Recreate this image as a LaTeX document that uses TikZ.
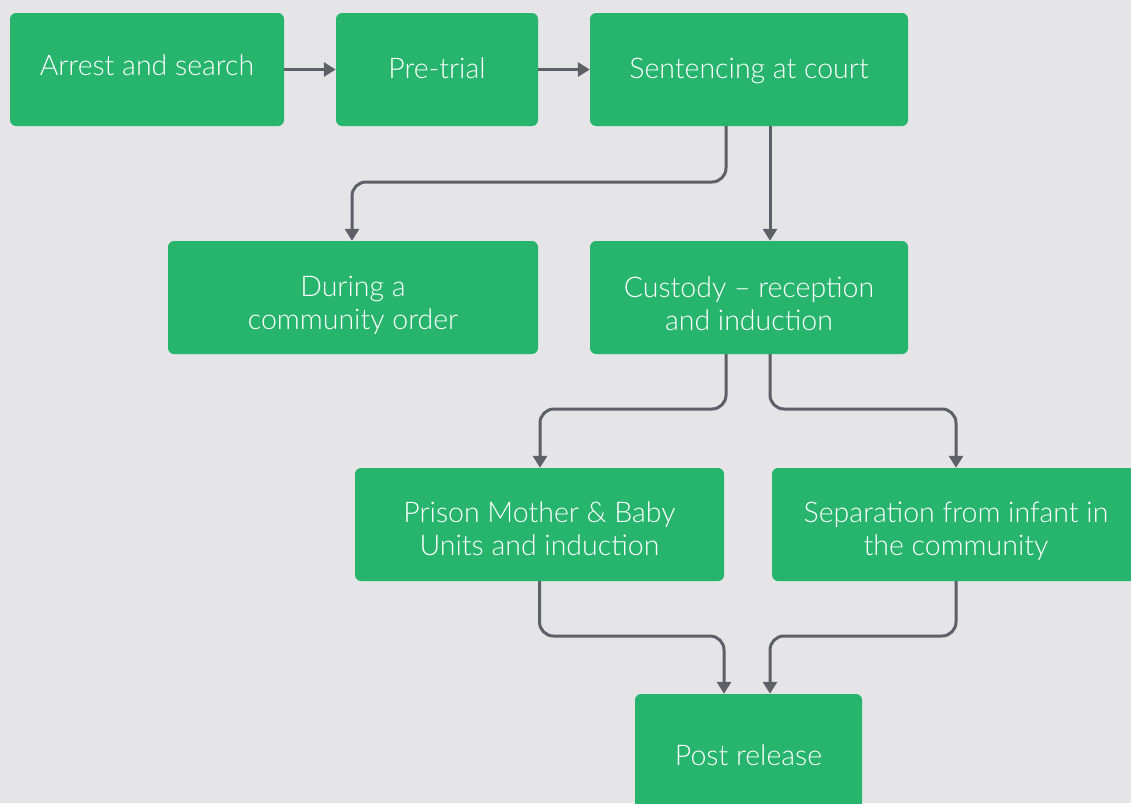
\documentclass[tikz,border=0pt]{standalone}
\usepackage{fontspec}
\setmainfont{Lato}[UprightFont=* Light]
\usetikzlibrary{arrows.meta}
\definecolor{bg}{HTML}{E5E5E7}
\definecolor{boxgreen}{HTML}{27B56E}
\definecolor{conn}{HTML}{5F5F66}
\newcommand\boxlbl[2]{\raisebox{#1}[0pt][0pt]{\begin{tabular}{@{}c@{}}#2\end{tabular}}}
\tikzset{
  box/.style={fill=boxgreen, rounded corners=6pt, text=white, align=center, inner sep=0pt, font=\fontsize{28.5}{33}\selectfont},
  conn/.style={draw=conn, line width=3pt, rounded corners=14pt, -{Triangle[length=12pt,width=14pt]}}
}
\begin{document}
\begin{tikzpicture}[x=1pt,y=-1pt]
\useasboundingbox (0,0) rectangle (1131,803);
\clip (0,0) rectangle (1131,803);
\fill[bg] (0,0) rectangle (1131,803);
\node[box, minimum width=274pt, minimum height=113pt] (arrest) at (147,69.5) {\boxlbl{-5.5pt}{Arrest and search}};
\node[box, minimum width=202pt, minimum height=113pt] (pretrial) at (437,69.5) {\boxlbl{-8.5pt}{Pre-trial}};
\node[box, minimum width=318pt, minimum height=113pt] (sentencing) at (749,69.5) {\boxlbl{-8.5pt}{Sentencing at court}};
\node[box, minimum width=370pt, minimum height=113pt] (community) at (353,297.5) {\boxlbl{-15pt}{During a\\community order}};
\node[box, minimum width=318pt, minimum height=113pt] (custody) at (749,297.5) {\boxlbl{-16pt}{Custody -- reception\\and induction}};
\node[box, minimum width=369pt, minimum height=113pt] (mbu) at (539.5,524.5) {\boxlbl{-14pt}{Prison Mother \& Baby\\Units and induction}};
\node[box, minimum width=368pt, minimum height=113pt] (separation) at (956,524.5) {\boxlbl{-14pt}{Separation from infant in\\the community}};
\node[box, minimum width=227pt, minimum height=122pt] (post) at (748.5,755) {\boxlbl{-10pt}{Post release}};
\coordinate (s1) at (726,126);
\coordinate (s2) at (770,126);
\coordinate (c1) at (726,354);
\coordinate (c2) at (770,354);
\draw[conn] (arrest.east) -- (pretrial.west);
\draw[conn] (pretrial.east) -- (sentencing.west);
\draw[conn] (s1) -- (726,182) -- (352,182) -- (community.north -| 352,0);
\draw[conn] (s2) -- (custody.north -| s2);
\draw[conn] (c1) -- (726,409) -- (540,409) -- (mbu.north -| 540,0);
\draw[conn] (c2) -- (770,409) -- (956,409) -- (separation.north);
\draw[conn] (mbu.south) -- (539.5,636) -- (724,636) -- (post.north -| 724,0);
\draw[conn] (separation.south) -- (956,636) -- (770,636) -- (post.north -| 770,0);
\end{tikzpicture}
\end{document}
